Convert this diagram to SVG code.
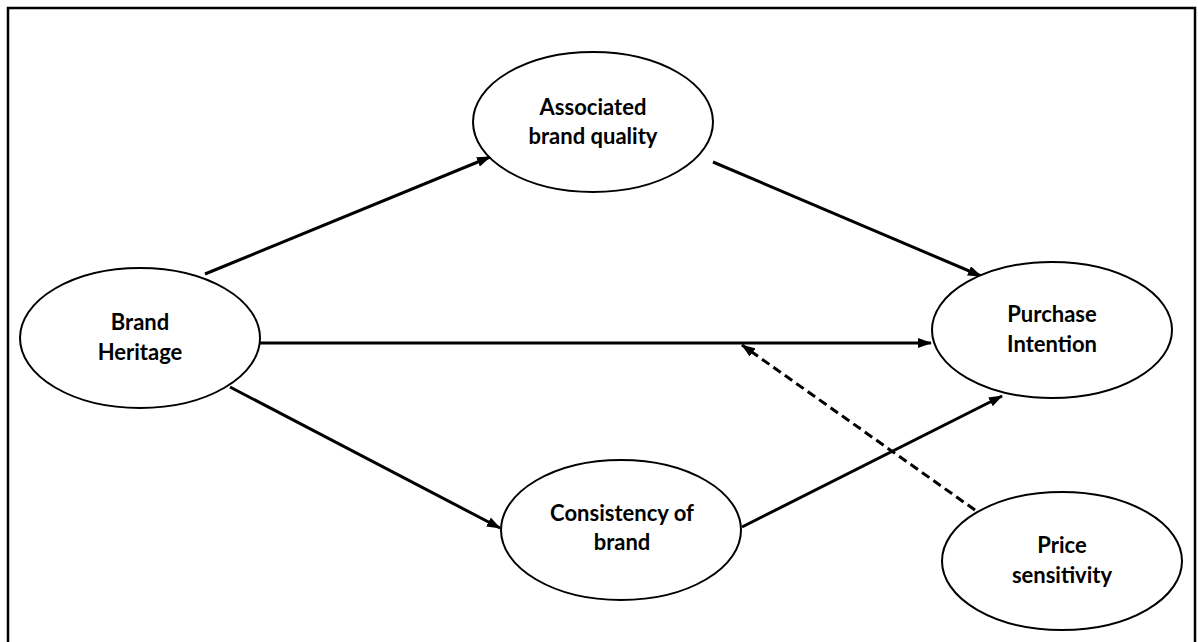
<svg xmlns="http://www.w3.org/2000/svg" width="1198" height="642" viewBox="0 0 1198 642">
<style>
.node ellipse{fill:#fff;stroke:#000;stroke-width:2}
.node text{font-family:Lato,"Open Sans","Liberation Sans",sans-serif;font-weight:bold;font-size:22px;fill:#000;text-anchor:middle}
.edge{stroke:#000;stroke-width:3;fill:none}
.dash{stroke-dasharray:9 5}
</style>
<defs>
<marker id="ah" markerUnits="userSpaceOnUse" markerWidth="14" markerHeight="10" refX="13" refY="5" orient="auto">
<path d="M0,0 L14,5 L0,10 z" fill="#000"/>
</marker>
</defs>
<rect x="0" y="0" width="1198" height="642" fill="#fff"/>
<rect x="8" y="8" width="1187" height="660" fill="none" stroke="#000" stroke-width="2.5"/>
<g id="connectors">
<line class="edge" x1="205" y1="274" x2="490" y2="157" marker-end="url(#ah)"/>
<line class="edge" x1="713" y1="162" x2="981" y2="276" marker-end="url(#ah)"/>
<line class="edge" x1="260" y1="343" x2="931" y2="343" marker-end="url(#ah)"/>
<line class="edge" x1="230" y1="387" x2="500" y2="528" marker-end="url(#ah)"/>
<line class="edge" x1="742" y1="527" x2="1002" y2="396" marker-end="url(#ah)"/>
<line class="edge dash" x1="975" y1="510" x2="742" y2="345" marker-end="url(#ah)"/>
</g>
<g id="brand-heritage" class="node">
<ellipse cx="140" cy="338" rx="120" ry="70"/>
<text x="140" y="330">Brand</text>
<text x="140" y="360">Heritage</text>
</g>
<g id="associated-brand-quality" class="node">
<ellipse cx="593" cy="122" rx="120" ry="70"/>
<text x="593" y="115">Associated</text>
<text x="593" y="144">brand quality</text>
</g>
<g id="purchase-intention" class="node">
<ellipse cx="1052" cy="330" rx="120" ry="68"/>
<text x="1052" y="322">Purchase</text>
<text x="1052" y="352">Intention</text>
</g>
<g id="consistency-of-brand" class="node">
<ellipse cx="621" cy="530" rx="120" ry="70"/>
<text x="622" y="521">Consistency of</text>
<text x="622" y="550">brand</text>
</g>
<g id="price-sensitivity" class="node">
<ellipse cx="1062" cy="561" rx="120" ry="69"/>
<text x="1062" y="553">Price</text>
<text x="1062" y="583">sensitivity</text>
</g>
</svg>
